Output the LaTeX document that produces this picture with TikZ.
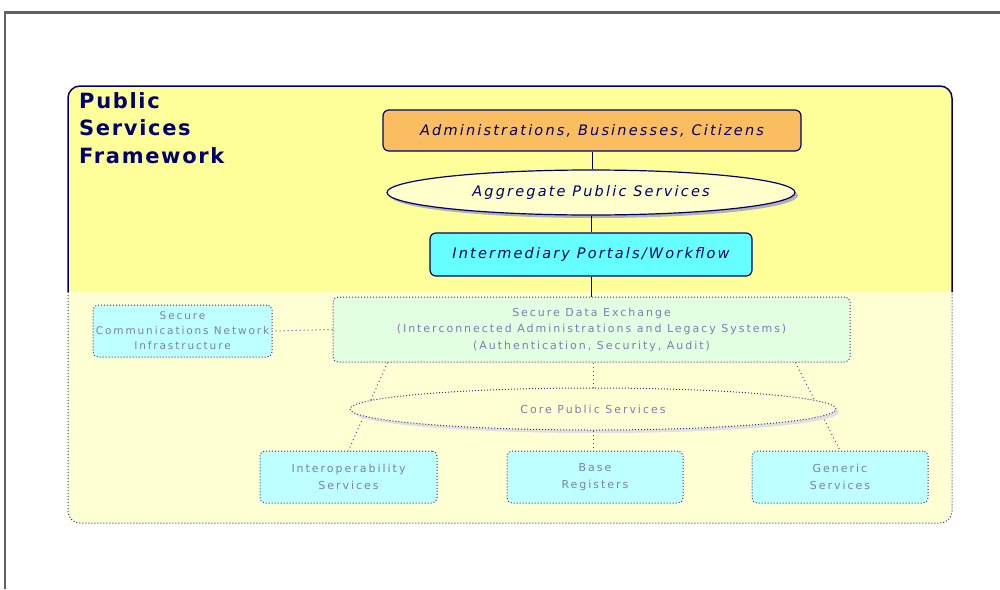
\documentclass[tikz,border=0pt]{standalone}
\usepackage{fontspec}
\usetikzlibrary{shapes.geometric,calc,shadows}
\newfontfamily\titlefont{DejaVu Sans}[BoldFont={DejaVu Sans Bold},LetterSpace=8]
\newfontfamily\lblfont{DejaVu Sans}[ItalicFont={DejaVu Sans Oblique},LetterSpace=15]
\newfontfamily\fadefont{DejaVu Sans}[LetterSpace=18]
\definecolor{navyd}{RGB}{0,0,110}
\definecolor{yel}{RGB}{255,255,153}
\definecolor{yelfade}{RGB}{255,255,212}
\definecolor{orng}{RGB}{250,190,96}
\definecolor{cyn}{RGB}{102,255,255}
\definecolor{cynfade}{RGB}{190,255,255}
\definecolor{grnfade}{RGB}{226,255,226}
\definecolor{ellfill}{RGB}{255,255,204}
\definecolor{fadetxt}{RGB}{125,125,180}
\tikzset{
  solidbox/.style={draw=navyd, line width=1.2pt, rounded corners=6pt, inner sep=0pt,
    font=\lblfont\itshape\fontsize{14.5}{17}\selectfont, text=navyd},
  fadebox/.style={draw=navyd!80, line width=1pt, dash pattern=on 1pt off 2pt, rounded corners=5pt,
    inner sep=0pt, align=center, font=\fadefont\fontsize{11}{16.5}\selectfont, text=fadetxt},
  conn/.style={draw=navyd, line width=1pt},
  fadeconn/.style={draw=navyd!70, line width=1pt, dash pattern=on 1pt off 3pt},
}
\begin{document}
\begin{tikzpicture}[x=1pt,y=-1pt]
\useasboundingbox (0,0) rectangle (1000,589);
\fill[white] (0,0) rectangle (1000,589);
% window frame
\draw[gray!75!black, line width=2.5pt] (5,589) -- (5,12.5) -- (1000,12.5);
% framework: lower faded part
\fill[yelfade, rounded corners=12pt] (68,280) -- (68,523) -- (952,523) -- (952,280) -- cycle;
\draw[navyd!80, line width=1pt, dash pattern=on 1pt off 2pt, rounded corners=12pt]
  (68,292) -- (68,523) -- (952,523) -- (952,292);
% framework: upper solid part
\fill[yel, rounded corners=12pt] (68,292) -- (68,86) -- (952,86) -- (952,292) -- cycle;
\fill[yel] (68,270) rectangle (952,292);
\draw[navyd, line width=1.5pt, rounded corners=12pt] (68,292) -- (68,86) -- (952,86) -- (952,292);
\node[anchor=north west, align=left, inner sep=0pt, text=navyd,
  font=\titlefont\bfseries\fontsize{21}{27.5}\selectfont] (title) at (79,92)
  {Public\\Services\\Framework};
% upper nodes
\node[solidbox, fill=orng, minimum width=418pt, minimum height=41pt] (abc) at (592,130.5)
  {Administrations, Businesses, Citizens};
\node[solidbox, ellipse, fill=ellfill, minimum width=408pt, minimum height=45pt,
  drop shadow={shadow xshift=3pt, shadow yshift=-3pt, fill=gray!60, opacity=1}] (aps) at (591,192.5)
  {Aggregate Public Services};
\node[solidbox, fill=cyn, minimum width=322pt, minimum height=43pt] (ipw) at (591,254.5)
  {Intermediary Portals/Workflow};
% faded nodes
\node[fadebox, fill=grnfade, minimum width=517pt, minimum height=65pt] (sde) at (591.5,329.5)
  {Secure Data Exchange\\(Interconnected Administrations and Legacy Systems)\\(Authentication, Security, Audit)};
\node[fadebox, fill=cynfade, minimum width=179pt, minimum height=52pt,
  font=\fadefont\fontsize{10.5}{15}\selectfont] (scn) at (182.5,331)
  {Secure\\Communications Network\\Infrastructure};
\node[fadebox, fill=cynfade, minimum width=177pt, minimum height=52pt] (ios) at (348.5,477)
  {Interoperability\\Services};
\node[fadebox, fill=cynfade, minimum width=176pt, minimum height=52pt] (bre) at (595,477)
  {Base\\Registers};
\node[fadebox, fill=cynfade, minimum width=176pt, minimum height=52pt] (gns) at (840,477)
  {Generic\\Services};
% faded connectors (behind ellipse)
\draw[fadeconn] ($(sde.south west)+(55,0)$) -- (ios.north);
\draw[fadeconn] ($(sde.south east)+(-55,0)$) -- (gns.north);
\node[fadebox, ellipse, rounded corners=0pt, fill=yelfade, minimum width=486pt, minimum height=42pt,
  drop shadow={shadow xshift=3pt, shadow yshift=-3pt, fill=gray!25, opacity=1}] (cps) at (593,409)
  {Core Public Services};
\draw[fadeconn] (sde.west) -- (scn.east);
\draw[fadeconn] (sde.south -| cps.north) -- (cps.north);
\draw[fadeconn] (cps.south) -- (cps.south |- bre.north);
% solid connectors
\draw[conn] (abc.south) -- (abc.south |- aps.north);
\draw[conn] (aps.south) -- (aps.south |- ipw.north);
\draw[conn] (ipw.south) -- (ipw.south |- sde.north);
\end{tikzpicture}
\end{document}
